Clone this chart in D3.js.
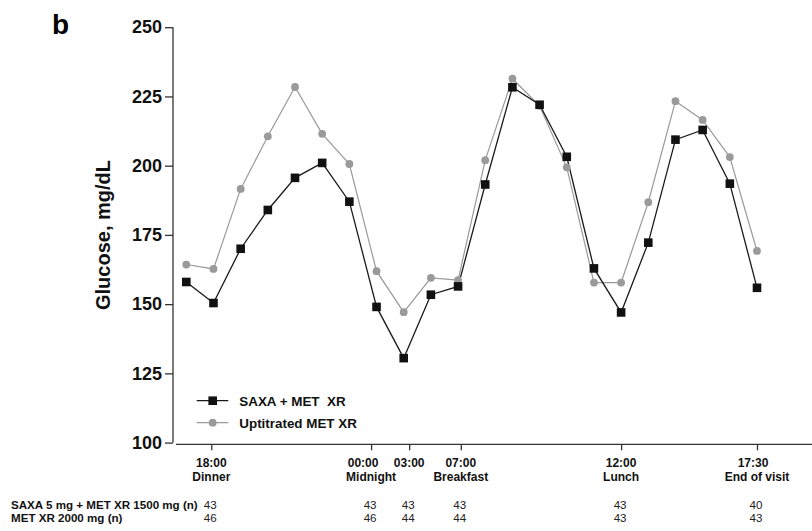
<!DOCTYPE html>
<html>
<head>
<meta charset="utf-8">
<script src="https://cdn.jsdelivr.net/npm/d3@7"></script>
<style>
  body { margin: 0; background: #fff; }
  svg { display: block; font-family: "Liberation Sans", Arial, sans-serif; }
  .line { fill: none; }
  text { white-space: pre; }
</style>
</head>
<body>
<svg width="812" height="531"></svg>
<script>
// glucose, mg/dL, one value per sampling point (equally spaced on the x axis)
var saxaMet = [158, 150.4, 170, 184, 195.6, 201, 187, 149, 130.5, 153.4, 156.4,
  193.2, 228.3, 222, 203.2, 162.9, 147, 172.2, 209.4, 212.9, 193.5, 155.9];
var upMet = [164.3, 162.7, 191.6, 210.6, 228.4, 211.5, 200.6, 161.9, 147.1, 159.5, 158.7,
  202, 231.4, 221.6, 199.4, 157.8, 157.8, 186.8, 223.3, 216.5, 203.1, 169.2];

// x tick marks, placed in sampling-point units
var tickPos = [0.92, 6.8, 8.2, 10.1, 16, 21];
var tickTime = ["18:00", "00:00", "03:00", "07:00", "12:00", "17:30"];
var tickEvent = ["Dinner", "Midnight", "", "Breakfast", "Lunch", "End of visit"];
var yTicks = [100, 125, 150, 175, 200, 225, 250];

var nRows = ["SAXA 5 mg + MET XR 1500 mg (n)", "MET XR 2000 mg (n)"];
var nSaxa = [43, 43, 43, 43, 43, 40];
var nMet = [46, 46, 44, 44, 43, 43];

var seriesNames = ["SAXA + MET  XR", "Uptitrated MET XR"];

var svg = d3.select("svg");

var x = d3.scaleLinear().domain([0, saxaMet.length - 1]).range([186.3, 757]);
var y = d3.scaleLinear().domain([100, 250]).range([442.6, 27.2]);

// panel letter
svg.append("text")
  .attr("x", 52).attr("y", 34)
  .style("font-size", "28px").style("font-weight", "bold")
  .text("b");

// y axis
var yAxis = svg.append("g")
  .attr("transform", "translate(173,0)")
  .call(d3.axisLeft(y).tickValues(yTicks).tickSize(8).tickPadding(3));
yAxis.select(".domain").attr("d", "M0," + y(250) + "V" + y(100)).attr("stroke", "#333").attr("stroke-width", 1.3);
yAxis.selectAll(".tick line").attr("stroke", "#333").attr("stroke-width", 1.3);
yAxis.selectAll(".tick text")
  .attr("fill", "#111")
  .style("font-size", "18px").style("font-weight", "bold")
  .style("font-family", "'Liberation Sans', Arial, sans-serif");

svg.append("text")
  .attr("transform", "translate(110,235) rotate(-90)")
  .attr("text-anchor", "middle")
  .style("font-size", "20px").style("font-weight", "bold")
  .attr("fill", "#111")
  .text("Glucose, mg/dL");

// x axis
var xAxis = svg.append("g")
  .attr("transform", "translate(0,444.3)")
  .call(d3.axisBottom(x).tickValues(tickPos).tickSize(6).tickFormat(""));
xAxis.select(".domain").attr("d", "M176,0H812").attr("stroke", "#333").attr("stroke-width", 1.3);
xAxis.selectAll(".tick line").attr("stroke", "#333").attr("stroke-width", 1.3);

var xl = svg.append("g").selectAll("g")
  .data(tickPos)
  .enter().append("g")
  .attr("transform", function(d) { return "translate(" + x(d) + ",0)"; })
  .attr("text-anchor", "middle")
  .style("font-size", "12px").style("font-weight", "bold")
  .attr("fill", "#111");
xl.append("text")
  .attr("y", 467)
  .attr("dx", function(d, i) { return i === 1 ? -8 : (i === 5 ? -4 : 0); })
  .text(function(d, i) { return tickTime[i]; });
xl.append("text")
  .attr("y", 481)
  .text(function(d, i) { return tickEvent[i]; });

// n table
var rowY = [509, 522];
svg.selectAll(".nlabel")
  .data(nRows)
  .enter().append("text")
  .attr("class", "nlabel")
  .attr("x", 11)
  .attr("y", function(d, i) { return rowY[i]; })
  .style("font-size", "11.6px").style("font-weight", "bold")
  .attr("fill", "#111")
  .text(function(d) { return d; });

[nSaxa, nMet].forEach(function(row, r) {
  svg.append("g").selectAll("text")
    .data(row)
    .enter().append("text")
    .attr("x", function(d, i) { return x(tickPos[i]) - 1; })
    .attr("y", rowY[r])
    .attr("text-anchor", "middle")
    .style("font-size", "11.6px")
    .attr("fill", "#222")
    .text(function(d) { return d; });
});

// lines
var line = d3.line()
  .x(function(d, i) { return x(i); })
  .y(function(d) { return y(d); });

svg.append("path").datum(upMet)
  .attr("class", "line")
  .attr("stroke", "#9a9a9a").attr("stroke-width", 1.2)
  .attr("d", line);

svg.append("path").datum(saxaMet)
  .attr("class", "line")
  .attr("stroke", "#1a1a1a").attr("stroke-width", 1.3)
  .attr("d", line);

svg.append("g").selectAll("circle")
  .data(upMet)
  .enter().append("circle")
  .attr("cx", function(d, i) { return x(i); })
  .attr("cy", function(d) { return y(d); })
  .attr("r", 3.9)
  .attr("fill", "#9a9a9a");

var sq = 8.6;
svg.append("g").selectAll("rect")
  .data(saxaMet)
  .enter().append("rect")
  .attr("x", function(d, i) { return x(i) - sq / 2; })
  .attr("y", function(d) { return y(d) - sq / 2; })
  .attr("width", sq).attr("height", sq)
  .attr("fill", "#111");

// legend
var legend = svg.append("g").attr("transform", "translate(196.7,400.7)");
var lg = legend.selectAll("g")
  .data(seriesNames)
  .enter().append("g")
  .attr("transform", function(d, i) { return "translate(0," + i * 22 + ")"; });
lg.append("line")
  .attr("x1", 0).attr("x2", 31.6)
  .attr("stroke", function(d, i) { return i ? "#9a9a9a" : "#1a1a1a"; })
  .attr("stroke-width", 1.3);
lg.filter(function(d, i) { return i === 0; }).append("rect")
  .attr("x", 16 - sq / 2).attr("y", -sq / 2)
  .attr("width", sq).attr("height", sq).attr("fill", "#111");
lg.filter(function(d, i) { return i === 1; }).append("circle")
  .attr("cx", 16).attr("r", 3.9).attr("fill", "#9a9a9a");
lg.append("text")
  .attr("x", 42.6).attr("y", 5)
  .style("font-size", "13.4px").style("font-weight", "bold")
  .attr("fill", "#111")
  .text(function(d) { return d; });
</script>
</body>
</html>
